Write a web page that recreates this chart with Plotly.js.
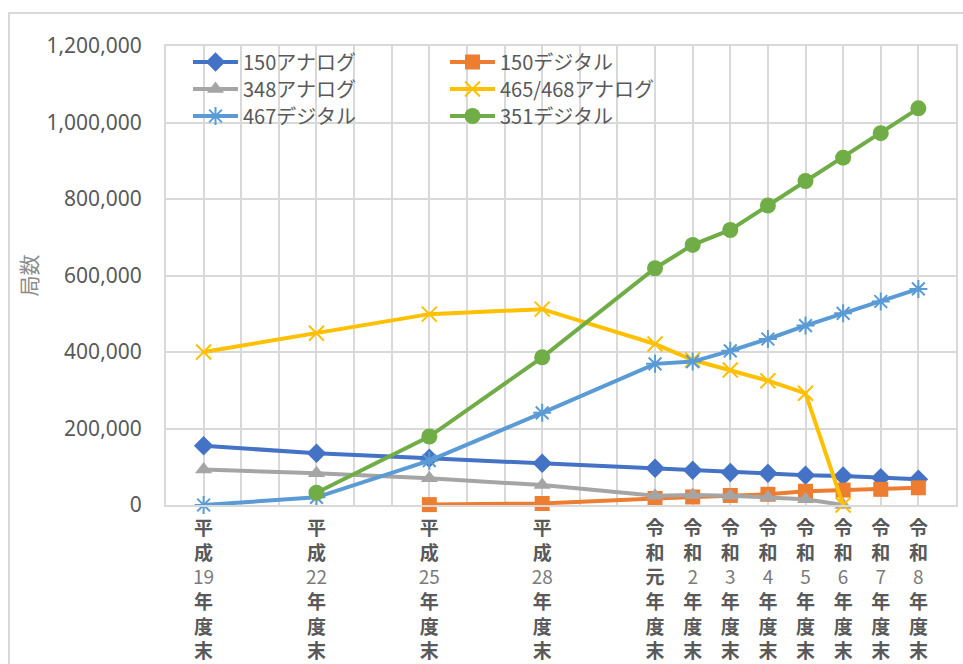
<!DOCTYPE html>
<html>
<head>
<meta charset="utf-8">
<script src="https://cdn.plot.ly/plotly-3.0.1.min.js"></script>
<style>
  html, body { margin: 0; padding: 0; background: #fff; overflow: hidden; }
  #chart { width: 963px; height: 664px; }
  #frame { position: absolute; left: 8px; top: 12px; width: 1200px; height: 1000px;
           border: 2px solid #d9d9d9; pointer-events: none; }
</style>
</head>
<body>
<div id="chart"></div>
<div id="frame"></div>
<script>
// 年度末ごとの局数
const fiscalYears = [2007, 2010, 2013, 2016, 2019, 2020, 2021, 2022, 2023, 2024, 2025, 2026];
const yearLabels = ['平成19年度末', '平成22年度末', '平成25年度末', '平成28年度末',
  '令和元年度末', '令和2年度末', '令和3年度末', '令和4年度末', '令和5年度末',
  '令和6年度末', '令和7年度末', '令和8年度末'];

const analog150   = [155000, 135000, 122000, 109000, 96000, 91000, 85000, 83000, 78000, 76000, 71000, 67000];
const digital150  = [null, null, 1000, 4000, 17000, 21000, 25000, 28000, 36000, 39000, 41000, 45000];
const analog348   = [93000, 83000, 70000, 52000, 24000, 26000, 24000, 20000, 15000, 0, null, null];
const analog465   = [400000, 449000, 499000, 512000, 421000, 379000, 353000, 325000, 292000, 0, null, null];
const digital467  = [0, 20000, 116000, 241000, 369000, 375000, 403000, 434000, 469000, 501000, 532000, 565000];
const digital351  = [null, 32000, 179000, 386000, 619000, 680000, 719000, 783000, 847000, 908000, 972000, 1037000];

const seriesNames = ['150アナログ', '150デジタル', '348アナログ', '465/468アナログ', '467デジタル', '351デジタル'];

// 縦書きの目盛りラベル: 漢字は1文字ずつ、数字はまとめて1行
function verticalLabel(s) {
  const tokens = s.match(/[0-9]+|./g);
  return tokens.map(t => /[0-9]/.test(t)
    ? '<span style="color:#7a7a7a">' + t + '</span>'
    : '<b>' + t + '</b>').join('<br>');
}

const JP = '"Noto Sans CJK JP", "Noto Sans", sans-serif';
const GRID = '#d9d9d9';

function series(name, y, color, symbol, size, legend, extra) {
  return Object.assign({
    type: 'scatter', mode: 'lines+markers', name: name,
    x: fiscalYears, y: y, legend: legend,
    line: { color: color, width: 4 },
    marker: { color: color, symbol: symbol, size: size },
    cliponaxis: false, connectgaps: false
  }, extra || {});
}

// 凡例は2列3行。各項目を個別の凡例として配置する
const data = [
  series(seriesNames[0], analog150, '#4472C4', 'diamond', 15, 'legend'),
  series(seriesNames[1], digital150, '#ED7D31', 'square', 15, 'legend2'),
  series(seriesNames[2], analog348, '#A5A5A5', 'triangle-up', 15, 'legend3'),
  series(seriesNames[3], analog465, '#FFC000', 'x-thin-open', 15, 'legend4',
    { marker: { color: '#FFC000', symbol: 'x-thin-open', size: 15, line: { color: '#FFC000', width: 2 } } }),
  series(seriesNames[4], digital467, '#5B9BD5', 'asterisk-open', 15, 'legend5',
    { marker: { color: '#5B9BD5', symbol: 'asterisk-open', size: 15, line: { color: '#5B9BD5', width: 2 } } }),
  series(seriesNames[5], digital351, '#70AD47', 'circle', 16, 'legend6')
];

const plotTop = 46, plotH = 459, plotL = 166, plotW = 790;
function legendAt(px, py) {
  return {
    orientation: 'v', bgcolor: 'rgba(0,0,0,0)', borderwidth: 0,
    font: { family: JP, size: 20, color: '#595959' },
    itemwidth: 45, xanchor: 'left', yanchor: 'middle',
    x: (px - plotL) / plotW, y: 1 - (py - plotTop) / plotH
  };
}

const layout = {
  width: 963, height: 664,
  margin: { l: 166, r: 7, t: 46, b: 159 },
  paper_bgcolor: '#ffffff', plot_bgcolor: '#ffffff',
  showlegend: true,
  legend:  legendAt(188, 62),
  legend2: legendAt(445, 62),
  legend3: legendAt(188, 89),
  legend4: legendAt(445, 89),
  legend5: legendAt(188, 116),
  legend6: legendAt(445, 116),
  xaxis: {
    range: [2006, 2027], tickmode: 'array', tickvals: fiscalYears,
    ticktext: yearLabels.map(verticalLabel),
    tickangle: 0, ticks: '', ticklabelstandoff: 5,
    tickfont: { family: JP, size: 19, color: '#595959' },
    showgrid: true, gridcolor: GRID, gridwidth: 2,
    minor: { tickmode: 'linear', tick0: 2006, dtick: 1, showgrid: true, gridcolor: GRID, gridwidth: 2, ticks: '' },
    showline: true, mirror: true, linecolor: GRID, linewidth: 2,
    zeroline: false, fixedrange: true
  },
  yaxis: {
    range: [0, 1200000], dtick: 200000, tickformat: ',d',
    ticks: '', ticklabelstandoff: 18,
    tickfont: { family: '"Noto Sans", sans-serif', size: 21, color: '#595959' },
    showgrid: true, gridcolor: GRID, gridwidth: 2,
    showline: true, mirror: true, linecolor: GRID, linewidth: 2,
    zeroline: false, fixedrange: true,
    title: { text: '局数', standoff: 3, font: { family: JP, size: 21, color: '#8c8c8c' } }
  }
};

Plotly.newPlot('chart', data, layout, { displayModeBar: false, staticPlot: true });
</script>
</body>
</html>
